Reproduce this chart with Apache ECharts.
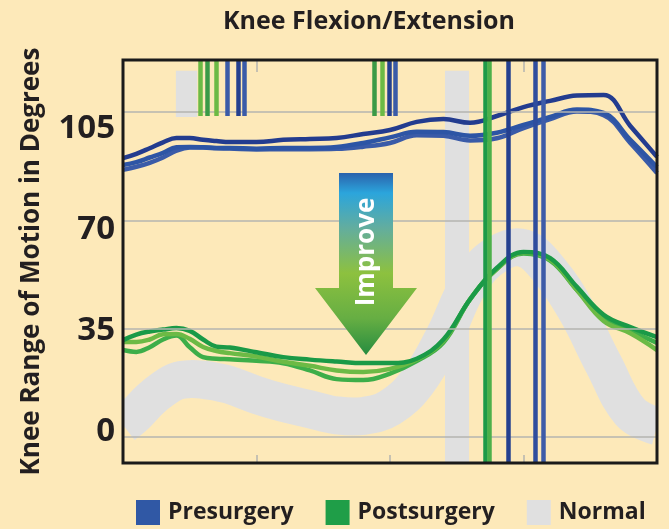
<!DOCTYPE html>
<html>
<head>
<meta charset="utf-8">
<title>Knee Flexion/Extension</title>
<script src="https://cdn.jsdelivr.net/npm/echarts@6/dist/echarts.min.js"></script>
<style>
html, body { margin: 0; padding: 0; background: #fde9b9; }
#chart { width: 669px; height: 529px; }
</style>
</head>
<body>
<div id="chart"></div>
<script>
// % of gait cycle
var gaitPct = [0, 2.5, 5, 7.5, 10, 12.5, 15, 17.5, 20, 25, 30, 35, 40, 45, 50, 55, 60, 65, 70, 75, 80, 85, 90, 95, 100];

// presurgery trials (degrees)
var pre1 = [90.1, 91.5, 93.3, 95.2, 96.6, 96.6, 96.0, 95.6, 95.3, 95.3, 96.0, 96.3, 96.6, 97.9, 99.2, 101.8, 102.7, 101.5, 103.7, 106.6, 108.6, 110.3, 110.5, 100.5, 90.5];
var pre2 = [87.9, 88.8, 90.3, 91.8, 93.6, 93.7, 93.6, 93.4, 93.4, 93.1, 93.4, 93.4, 93.7, 95.0, 96.8, 98.6, 98.5, 97.3, 98.3, 100.8, 103.4, 105.8, 104.7, 96.0, 87.2];
var pre3 = [86.3, 87.3, 88.6, 90.3, 92.5, 93.5, 93.5, 93.3, 93.2, 92.9, 93.0, 93.0, 93.1, 93.8, 95.0, 97.5, 97.3, 95.8, 96.5, 99.8, 102.7, 105.2, 104.0, 95.0, 85.3];

// postsurgery trials
var post1 = [31.3, 33.1, 34.1, 34.7, 35.2, 34.3, 31.5, 29.2, 28.9, 27.4, 25.8, 25.0, 24.4, 23.9, 23.9, 25.3, 31.5, 44.5, 54.6, 59.8, 57.8, 48.5, 39.5, 35.5, 32.3];
var post2 = [30.7, 30.7, 31.5, 33.2, 33.3, 31.7, 29.1, 27.8, 27.1, 26.0, 24.3, 23.0, 21.5, 21.0, 22.0, 25.0, 31.0, 44.5, 54.3, 59.5, 57.3, 47.5, 37.5, 33.5, 28.1];
var post3 = [28.1, 27.5, 29.0, 31.5, 32.8, 29.0, 25.8, 25.3, 25.1, 24.6, 23.8, 21.5, 18.7, 18.4, 20.5, 24.5, 30.5, 44.5, 54.3, 59.3, 57.0, 47.5, 38.3, 34.3, 30.4];

// normal band (centre line)
var normal = [3.9, 7.5, 12.0, 15.5, 18.0, 18.7, 18.5, 17.8, 16.8, 13.6, 11.0, 9.0, 7.0, 6.8, 9.5, 17.5, 32.0, 50.0, 59.0, 61.0, 53.5, 40.5, 23.5, 8.0, 3.5];

// gait events, % of cycle
var preShort = [19.5, 21.5, 22.7, 49.8, 50.9];
var postShort = [14.4, 15.7, 17.4, 47.0, 48.5];
var preFull = [72.1, 77.2, 78.7];
var postFull = [67.8, 68.5];
var normalShortBand = [9.9, 13.9];
var normalFullBand = [60.3, 64.8];

var yTicks = [0, 35, 70, 105];
var yMin = -8.4, yMax = 121.8, shortBottom = 103.7;
// the printed tick labels sit a little off the gridlines
var labelMin = -10.9, labelMax = 128.7;

var preColors = ['#233c8f', '#2d55a5', '#3a5ba8'];
var postColors = ['#1a9a47', '#6cba45', '#3dae49'];
var preLineColors = ['#3a5ba8', '#24408f', '#3a5ba8', '#24408f', '#3a5ba8'];
var postLineColors = ['#6cba45', '#3a9a47', '#6cba45', '#3a9a47', '#6cba45'];
var preFullColors = ['#24408f', '#2f4d9e', '#3d5ba8'];
var postFullColors = ['#1e9a48', '#4db04a'];

function pairs(arr) {
    var out = [];
    for (var i = 0; i < gaitPct.length; i++) {
        out.push([gaitPct[i], arr[i]]);
    }
    return out;
}

function curve(name, arr, color, width, z) {
    return {
        name: name,
        type: 'line',
        data: pairs(arr),
        smooth: 0.4,
        showSymbol: false,
        symbol: 'none',
        z: z,
        itemStyle: { color: color },
        lineStyle: { color: color, width: width }
    };
}

var eventLines = [];
function addLines(list, colors, bottom) {
    for (var i = 0; i < list.length; i++) {
        eventLines.push([
            { coord: [list[i], bottom], lineStyle: { color: colors[i], width: 4.5, type: 'solid' } },
            { coord: [list[i], yMax] }
        ]);
    }
}
addLines(postShort, postLineColors, shortBottom);
addLines(preShort, preLineColors, shortBottom);
addLines(postFull, postFullColors, yMin);
addLines(preFull, preFullColors, yMin);

var gridLines = [];
for (var i = 0; i < yTicks.length; i++) {
    gridLines.push({ yAxis: yTicks[i] });
}

var font = 'Open Sans';
var gridBox = { left: 123, top: 60, width: 534, height: 403 };
var myChart = echarts.init(document.getElementById('chart'));

var series = [];
// gridlines underneath everything
series.push({
    type: 'line',
    data: [],
    z: 1,
    markLine: {
        silent: true,
        symbol: 'none',
        label: { show: false },
        lineStyle: { color: '#b4b4b0', width: 1.5, type: 'solid' },
        data: gridLines
    }
});
// normal: wide grey stroke, drawn as custom so it is clipped at the frame
series.push({
    name: 'Normal',
    type: 'custom',
    data: pairs(normal),
    clip: true,
    z: 2,
    itemStyle: { color: '#e0e0e0' },
    renderItem: function (params, api) {
        if (params.dataIndex !== 0) {
            return null;
        }
        var pts = [];
        for (var i = 0; i < normal.length; i++) {
            pts.push(api.coord([gaitPct[i], normal[i]]));
        }
        return {
            type: 'polyline',
            shape: { points: pts, smooth: 0.4 },
            style: { stroke: '#e0e0e0', lineWidth: 38, fill: null }
        };
    }
});
series.push({
    type: 'line',
    data: [],
    z: 2,
    markArea: {
        silent: true,
        itemStyle: { color: '#e0e0e0' },
        data: [
            [{ coord: [normalShortBand[0], 103.4] }, { coord: [normalShortBand[1], 118.3] }],
            [{ coord: [normalFullBand[0], yMin] }, { coord: [normalFullBand[1], 118.3] }]
        ]
    }
});
series.push(curve('Presurgery', pre3, preColors[2], 4.5, 3));
series.push(curve('Presurgery', pre2, preColors[1], 4.5, 3));
series.push(curve('Presurgery', pre1, preColors[0], 4.5, 3));
series.push(curve('Postsurgery', post3, postColors[2], 4.5, 3));
series.push(curve('Postsurgery', post2, postColors[1], 4.5, 3));
series.push(curve('Postsurgery', post1, postColors[0], 4.5, 3));
series.push({
    type: 'line',
    data: [],
    z: 5,
    markLine: {
        silent: true,
        symbol: 'none',
        label: { show: false },
        data: eventLines
    }
});

var option = {
    backgroundColor: '#fde9b9',
    animation: false,
    legend: {
        left: 136,
        top: 500,
        padding: 0,
        icon: 'rect',
        itemWidth: 24,
        itemHeight: 25,
        itemGap: 32,
        textStyle: { fontFamily: font, fontSize: 23, fontWeight: 'bold', color: '#231f20', padding: [0, 0, 0, 3] },
        data: [
            { name: 'Presurgery', itemStyle: { color: '#3058a5' } },
            { name: 'Postsurgery', itemStyle: { color: '#1f9e48' } },
            { name: 'Normal', itemStyle: { color: '#e0e0e0' } }
        ]
    },
    grid: {
        left: gridBox.left, top: gridBox.top, width: gridBox.width, height: gridBox.height,
        show: false
    },
    xAxis: [{
        type: 'value',
        min: 0, max: 100, interval: 25,
        axisLine: { show: false, onZero: false },
        axisLabel: { show: false },
        splitLine: { show: false },
        axisTick: { inside: true, length: 8, lineStyle: { color: '#b4b4b0', width: 1.5 } }
    }, {
        type: 'value',
        position: 'top',
        min: 0, max: 100, interval: 25,
        axisLine: { show: false, onZero: false },
        axisLabel: { show: false },
        splitLine: { show: false },
        axisTick: { inside: true, length: 12, lineStyle: { color: '#b4b4b0', width: 1.5 } }
    }],
    yAxis: [{
        type: 'value',
        min: yMin, max: yMax,
        name: 'Knee Range of Motion in Degrees',
        nameLocation: 'middle',
        nameRotate: 90,
        nameGap: 78,
        nameTextStyle: { fontFamily: font, fontSize: 26, fontWeight: 'bold', color: '#231f20' },
        axisLine: { show: false, onZero: false },
        axisTick: { show: false },
        splitLine: { show: false },
        axisLabel: { show: false }
    }, {
        type: 'value',
        position: 'left',
        min: labelMin, max: labelMax,
        axisLine: { show: false, onZero: false },
        axisTick: { show: false },
        splitLine: { show: false },
        axisLabel: {
            customValues: yTicks,
            margin: 8,
            fontFamily: font, fontSize: 33, fontWeight: 'bold', color: '#231f20'
        }
    }],
    graphic: [{
        type: 'text',
        x: 369,
        y: 22,
        style: {
            text: 'Knee Flexion/Extension',
            fill: '#231f20',
            fontFamily: font,
            fontSize: 25,
            fontWeight: 'bold',
            align: 'center',
            verticalAlign: 'middle'
        }
    }, {
        // plot frame, kept on top of the grey stroke
        type: 'rect',
        z: 20,
        shape: { x: gridBox.left, y: gridBox.top, width: gridBox.width, height: gridBox.height },
        style: { fill: null, stroke: '#1a1a1a', lineWidth: 3 }
    }, {
        type: 'polygon',
        z: 10,
        shape: {
            points: [[339, 173], [393, 173], [393, 288], [417, 288], [366, 355], [315, 288], [339, 288]]
        },
        style: {
            fill: new echarts.graphic.LinearGradient(0, 0, 0, 1, [
                { offset: 0, color: '#2b62ac' },
                { offset: 0.11, color: '#2ba5dc' },
                { offset: 0.3, color: '#62ad9f' },
                { offset: 0.55, color: '#8dc13f' },
                { offset: 0.8, color: '#66ae43' },
                { offset: 1, color: '#268c40' }
            ])
        }
    }, {
        type: 'text',
        z: 11,
        x: 367,
        y: 252,
        rotation: Math.PI / 2,
        style: {
            text: 'Improve',
            fill: '#ffffff',
            fontFamily: font,
            fontSize: 26,
            fontWeight: 'bold',
            align: 'center',
            verticalAlign: 'middle'
        }
    }],
    series: series
};
myChart.setOption(option);
</script>
</body>
</html>
